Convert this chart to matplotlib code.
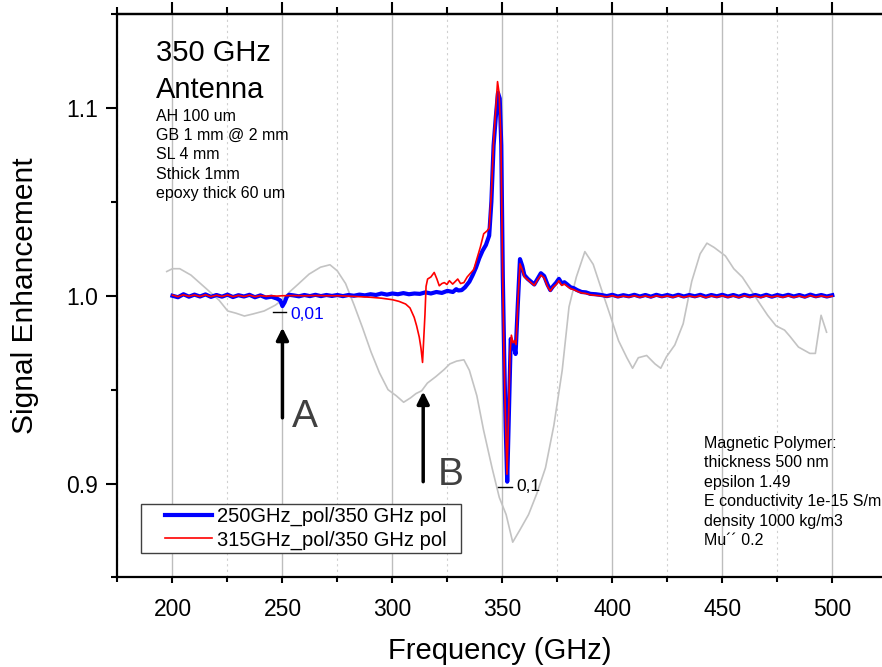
import matplotlib
matplotlib.use("Agg")
import matplotlib.pyplot as plt
from matplotlib.ticker import FixedLocator
from matplotlib.patches import Rectangle

plt.rcParams['font.family'] = ['Liberation Sans', 'DejaVu Sans']

# ---------------- data ----------------
blue_freq = [200, 202.5, 205, 207.5, 210, 212.5, 215, 217.5, 220, 222.5,
             225, 227.5, 230, 232.5, 235, 237.5, 240, 242.5, 245, 247.5,
             249, 250, 251, 252, 253, 255, 257.5, 260, 262.5, 265,
             267.5, 270, 272.5, 275, 277.5, 280, 282.5, 285, 287.5, 290,
             292.5, 295, 297.5, 300, 302.5, 305, 307.5, 310, 312.5, 315,
             317.5, 320, 322.5, 325, 327.5, 329, 330, 331.5, 333, 335,
             336.5, 338, 339.5, 341, 342.5, 344, 345, 346, 347, 348,
             348.8, 349.5, 350.2, 350.8, 351.5, 352.2, 353, 353.8, 354.5, 355.2,
             356, 357, 358, 359, 360, 361.5, 363, 364.5, 366, 367.5,
             369, 370.5, 371.8, 373, 374.5, 375.7, 377, 378.2, 379.5, 381,
             382.5, 384, 386, 388, 390, 392.5, 395, 397.5, 400, 402.5,
             405, 407.5, 410, 412.5, 415, 417.5, 420, 422.5, 425, 427.5,
             430, 432.5, 435, 437.5, 440, 442.5, 445, 447.5, 450, 452.5,
             455, 457.5, 460, 462.5, 465, 467.5, 470, 472.5, 475, 477.5,
             480, 482.5, 485, 487.5, 490, 492.5, 495, 497.5, 500]
blue_val = [1.0000, 0.9992, 1.0008, 0.9995, 1.0006, 0.9996, 1.0007, 0.9994, 1.0004, 0.9995,
            1.0006, 0.9993, 1.0003, 0.9996, 1.0005, 0.9992, 1.0002, 0.9990, 0.9995, 0.9985,
            0.9975, 0.9945, 0.9965, 0.9995, 1.0005, 1.0002, 0.9997, 1.0004, 0.9998, 1.0005,
            0.9998, 1.0004, 0.9999, 1.0004, 0.9998, 1.0004, 1.0000, 1.0006, 1.0002, 1.0008,
            1.0004, 1.0012, 1.0006, 1.0012, 1.0008, 1.0014, 1.0008, 1.0012, 1.0010, 1.0018,
            1.0012, 1.0020, 1.0015, 1.0026, 1.0020, 1.0035, 1.0028, 1.0030, 1.0045, 1.0075,
            1.0110, 1.0150, 1.0200, 1.0240, 1.0270, 1.0320, 1.0500, 1.0800, 1.0950, 1.1080,
            1.1050, 1.0800, 1.0100, 0.9700, 0.9300, 0.9010, 0.9400, 0.9770, 0.9740, 0.9730,
            0.9690, 0.9950, 1.0195, 1.0160, 1.0110, 1.0090, 1.0075, 1.0060, 1.0090, 1.0120,
            1.0105, 1.0060, 1.0030, 1.0050, 1.0070, 1.0090, 1.0065, 1.0072, 1.0060, 1.0045,
            1.0040, 1.0030, 1.0020, 1.0018, 1.0010, 1.0008, 1.0004, 0.9998, 1.0005, 0.9996,
            1.0003, 0.9997, 1.0005, 0.9996, 1.0004, 0.9995, 1.0005, 0.9997, 1.0004, 0.9996,
            1.0005, 0.9996, 1.0004, 0.9997, 1.0005, 0.9995, 1.0004, 0.9997, 1.0005, 0.9996,
            1.0004, 0.9995, 1.0005, 0.9997, 1.0004, 0.9996, 1.0005, 0.9995, 1.0004, 0.9997,
            1.0005, 0.9996, 1.0004, 0.9995, 1.0006, 0.9997, 1.0004, 0.9996, 1.0003]

red_freq = [200, 202.5, 205, 207.5, 210, 212.5, 215, 217.5, 220, 222.5,
            225, 227.5, 230, 232.5, 235, 237.5, 240, 242.5, 245, 247.5,
            250, 255, 260, 265, 270, 275, 280, 285, 290, 295,
            300, 303, 306, 308, 309.9, 311, 312.2, 313, 313.7, 314.3,
            314.8, 315.3, 316, 317.5, 319, 320.2, 321.3, 322.5, 323.6, 324.8,
            325.9, 327.4, 328.5, 329.7, 331, 332.5, 334, 335.5, 337, 338.5,
            340, 341.5, 343, 344, 345, 346, 347, 347.8, 348.5, 349.3,
            350, 350.7, 351.4, 352.1, 352.8, 353.5, 354.1, 354.8, 355.5, 356.2,
            357.1, 358, 359, 360, 361.5, 363, 364.5, 366, 367.5, 369,
            370.5, 371.8, 373, 374.5, 375.7, 377, 378.2, 379.5, 381, 382.5,
            384, 386, 388, 390, 392.5, 395, 397.5, 400, 402.5, 405,
            407.5, 410, 412.5, 415, 417.5, 420, 422.5, 425, 427.5, 430,
            432.5, 435, 437.5, 440, 442.5, 445, 447.5, 450, 452.5, 455,
            457.5, 460, 462.5, 465, 467.5, 470, 472.5, 475, 477.5, 480,
            482.5, 485, 487.5, 490, 492.5, 495, 497.5, 500]
red_val = [1.0003, 0.9995, 1.0005, 0.9997, 1.0004, 0.9996, 1.0005, 0.9995, 1.0003, 0.9996,
           1.0004, 0.9995, 1.0002, 0.9996, 1.0003, 0.9995, 1.0001, 0.9997, 1.0000, 0.9998,
           1.0000, 1.0001, 1.0000, 1.0001, 1.0000, 1.0000, 0.9998, 0.9995, 0.9992, 0.9987,
           0.9979, 0.9970, 0.9956, 0.9935, 0.9885, 0.9840, 0.9780, 0.9720, 0.9645, 0.9780,
           0.9900, 1.0050, 1.0089, 1.0100, 1.0124, 1.0090, 1.0053, 1.0065, 1.0070, 1.0060,
           1.0080, 1.0062, 1.0075, 1.0089, 1.0065, 1.0070, 1.0100, 1.0120, 1.0140, 1.0200,
           1.0260, 1.0330, 1.0345, 1.0360, 1.0550, 1.0820, 1.1000, 1.1140, 1.1080, 1.0850,
           1.0200, 0.9700, 0.9350, 0.9050, 0.9350, 0.9700, 0.9790, 0.9750, 0.9760, 0.9740,
           0.9980, 1.0170, 1.0140, 1.0100, 1.0085, 1.0070, 1.0055, 1.0085, 1.0110, 1.0095,
           1.0050, 1.0025, 1.0045, 1.0060, 1.0080, 1.0055, 1.0062, 1.0050, 1.0038, 1.0032,
           1.0024, 1.0015, 1.0012, 1.0005, 1.0002, 0.9999, 0.9994, 1.0000, 0.9992, 0.9998,
           0.9993, 1.0000, 0.9992, 0.9999, 0.9991, 1.0000, 0.9993, 0.9999, 0.9992, 1.0000,
           0.9992, 0.9999, 0.9993, 1.0000, 0.9991, 0.9999, 0.9993, 1.0000, 0.9992, 0.9999,
           0.9991, 1.0000, 0.9992, 0.9999, 0.9991, 1.0000, 0.9993, 0.9999, 0.9992, 1.0000,
           0.9992, 0.9999, 0.9991, 1.0001, 0.9993, 0.9999, 0.9993, 0.9998]

gray_freq = [197.4, 200, 203.3, 208.4, 216.1, 221.2, 225.1, 228.9, 232.7, 236.6,
             241.7, 246.8, 250.1, 253.2, 257, 262.1, 267.3, 271.6, 274.9, 278.7,
             282.6, 286.4, 290.3, 294.1, 298, 301.8, 305.1, 308.2, 310.7, 313.3,
             315.9, 319.7, 323.5, 326.1, 329.2, 332.5, 335, 338.4, 341.4, 345.3,
             348.6, 351.7, 354.7, 358.1, 361.9, 365.7, 369.6, 373.4, 377.2, 380.3,
             383.6, 387.5, 391.3, 395.1, 399, 402.8, 406.6, 409.2, 411.8, 415.6,
             419.4, 422, 424.6, 428.4, 432.2, 436.1, 439.9, 443, 446.3, 451.4,
             455.2, 459.1, 462.9, 466.7, 470.6, 474.4, 478.3, 480.8, 484.6, 489.8,
             492.3, 494.9, 497.4]
gray_val = [1.0129, 1.0144, 1.0144, 1.0110, 1.0030, 0.9976, 0.9919, 0.9907, 0.9892, 0.9903,
            0.9919, 0.9950, 0.9980, 1.0020, 1.0060, 1.0115, 1.0152, 1.0165, 1.0133, 1.0065,
            0.9950, 0.9830, 0.9700, 0.9590, 0.9500, 0.9467, 0.9433, 0.9456, 0.9479, 0.9494,
            0.9535, 0.9569, 0.9607, 0.9637, 0.9652, 0.9659, 0.9603, 0.9467, 0.9287, 0.9084,
            0.8926, 0.8835, 0.8688, 0.8756, 0.8835, 0.8948, 0.9084, 0.9309, 0.9603, 0.9941,
            1.0099, 1.0235, 1.0167, 1.0032, 0.9896, 0.9761, 0.9670, 0.9614, 0.9670, 0.9682,
            0.9637, 0.9614, 0.9675, 0.9738, 0.9851, 1.0077, 1.0223, 1.0280, 1.0257, 1.0212,
            1.0144, 1.0099, 1.0032, 0.9964, 0.9896, 0.9840, 0.9817, 0.9783, 0.9727, 0.9693,
            0.9693, 0.9896, 0.9806]

series_labels = ["250GHz_pol/350 GHz pol", "315GHz_pol/350 GHz pol"]
x_major = [200, 250, 300, 350, 400, 450, 500]
x_minor = [175, 225, 275, 325, 375, 425, 475, 525]
y_major = [0.9, 1.0, 1.1]
y_minor = [0.85, 0.95, 1.05, 1.15]
title_lines = ["350 GHz", "Antenna"]
param_lines = ["AH 100 um", "GB 1 mm @ 2 mm", "SL 4 mm", "Sthick 1mm", "epoxy thick 60 um"]
material_lines = ["Magnetic Polymer:", "thickness 500 nm", "epsilon 1.49",
                  "E conductivity 1e-15 S/m", "density 1000 kg/m3", "Mu\u00b4\u00b4 0.2"]

# ---------------- figure ----------------
fig = plt.figure(figsize=(8.82, 6.67), dpi=100)
ax = fig.add_axes([0.1332, 0.1342, 0.8668, 0.8448])

ax.plot(gray_freq, gray_val, color='#c3c3c3', lw=1.2, zorder=2)
ax.plot(blue_freq, blue_val, color='#0000ff', lw=3.0, zorder=3, label=series_labels[0])
ax.plot(red_freq, red_val, color='#ff0000', lw=1.2, zorder=4, label=series_labels[1])

ax.set_xlim(175, 522.6)
ax.set_ylim(0.85, 1.15)

ax.xaxis.set_major_locator(FixedLocator(x_major))
ax.xaxis.set_minor_locator(FixedLocator(x_minor))
ax.yaxis.set_major_locator(FixedLocator(y_major))
ax.yaxis.set_minor_locator(FixedLocator(y_minor))
ax.set_yticklabels([f"{v:.1f}" for v in y_major])

ax.grid(True, which='major', axis='x', color='#bdbdbd', lw=1.0, zorder=0)
ax.grid(True, which='minor', axis='x', color='#d0d0d0', lw=0.8, linestyle=(0, (2, 3)), zorder=0)
ax.set_axisbelow(True)

for s in ['left', 'bottom', 'top']:
    ax.spines[s].set_linewidth(1.6)
ax.spines['right'].set_visible(False)

ax.tick_params(axis='x', which='major', direction='out', length=4.5, width=1.5,
               labelsize=16.5, pad=10)
ax.tick_params(axis='x', which='minor', direction='out', length=3.5, width=1.5)
ax.tick_params(axis='y', which='major', direction='out', length=7.7, width=1.5,
               labelsize=16.5, pad=6)
ax.tick_params(axis='y', which='minor', direction='out', length=4.0, width=1.5)

top = ax.secondary_xaxis('top')
top.xaxis.set_major_locator(FixedLocator(x_major))
top.xaxis.set_minor_locator(FixedLocator(x_minor))
top.tick_params(which='major', direction='out', length=8.5, width=1.5, labeltop=False)
top.tick_params(which='minor', direction='out', length=5, width=1.5)
top.spines['top'].set_linewidth(1.6)

ax.set_xlabel("Frequency (GHz)", fontsize=21, labelpad=12)
ax.set_ylabel("Signal Enhancement", fontsize=21.5, labelpad=20)

# text blocks
ax.text(0.0504, 0.917, title_lines[0], transform=ax.transAxes, fontsize=21, va='baseline')
ax.text(0.0504, 0.851, title_lines[1], transform=ax.transAxes, fontsize=21, va='baseline')
for i, t in enumerate(param_lines):
    ax.text(0.0504, 0.811 - i * 0.0346, t, transform=ax.transAxes, fontsize=11.5, va='baseline')
for i, t in enumerate(material_lines):
    ax.text(0.767, 0.230 - i * 0.0346, t, transform=ax.transAxes, fontsize=11.5, va='baseline')

# arrows with letters
ax.annotate("", xy=(250, 0.983), xytext=(250, 0.935),
            arrowprops=dict(arrowstyle='-|>', lw=2.5, color='black', mutation_scale=18,
                            shrinkA=0, shrinkB=0))
ax.annotate("", xy=(314, 0.949), xytext=(314, 0.901),
            arrowprops=dict(arrowstyle='-|>', lw=2.5, color='black', mutation_scale=18,
                            shrinkA=0, shrinkB=0))
ax.text(260.4, 0.9356, "A", fontsize=28, color='#404040', ha='center', va='center')
ax.text(326.7, 0.9045, "B", fontsize=28, color='#404040', ha='center', va='center')

# point labels
ax.plot([245.6, 251.5], [0.9916, 0.9916], color='black', lw=1.0, zorder=5)
ax.text(253.7, 0.9902, "0,01", color='#0000ff', fontsize=12.5, va='center')
ax.plot([347.8, 354.6], [0.8984, 0.8984], color='black', lw=1.0, zorder=5)
ax.text(356.4, 0.8984, "0,1", color='black', fontsize=12.5, va='center')

# legend: frame drawn as a box, entries placed inside it
ax.add_patch(Rectangle((0.031, 0.0443), 0.418, 0.0869, transform=ax.transAxes,
                       facecolor='white', edgecolor='#404040', lw=1.0, zorder=6))
leg = ax.legend(loc='center left', bbox_to_anchor=(0.0615, 0.0872), fontsize=14.5,
                frameon=False, borderpad=0, labelspacing=0.2, handlelength=2.35,
                handletextpad=0.28, borderaxespad=0)
leg.set_zorder(7)

fig.savefig("out.png", dpi=100)
